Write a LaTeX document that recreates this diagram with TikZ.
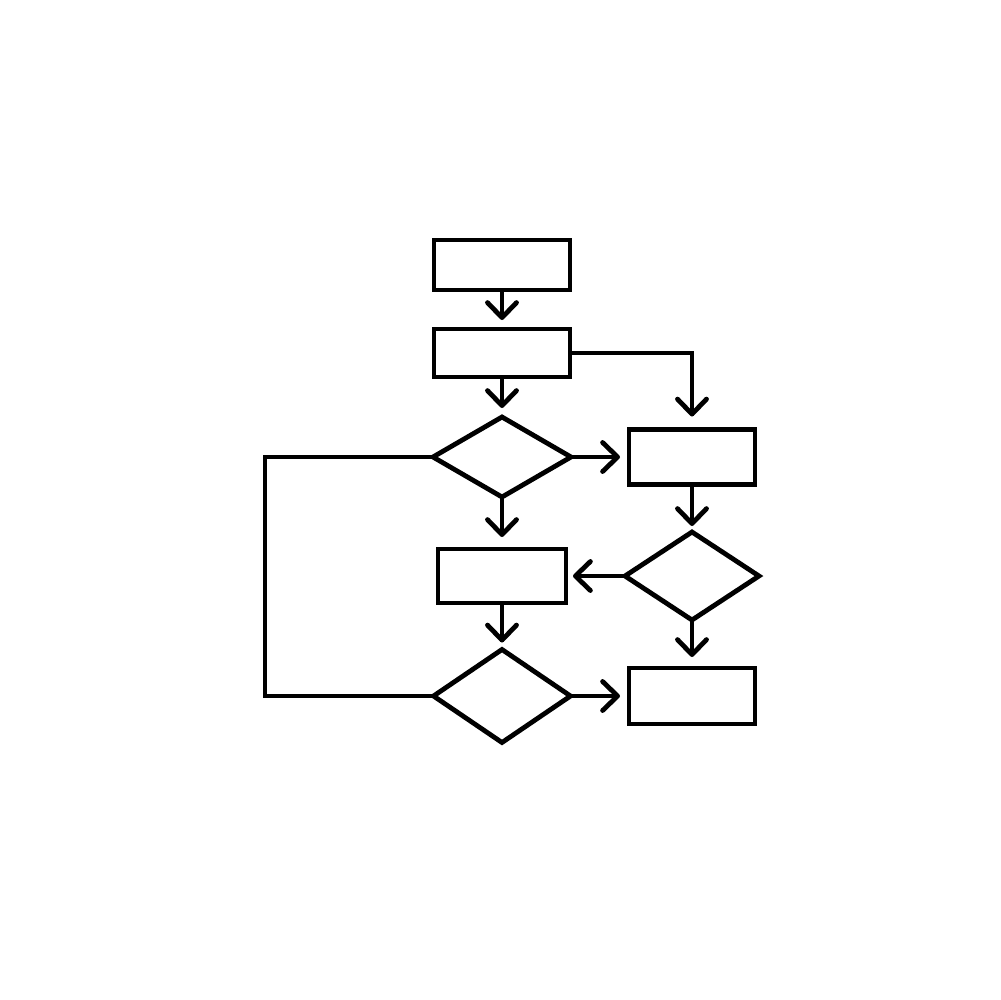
\documentclass[tikz,border=0pt]{standalone}
\usetikzlibrary{shapes.geometric,arrows.meta}
\begin{document}
\begin{tikzpicture}[x=0.1mm,y=-0.1mm,
  every node/.style={draw=black,line width=0.48mm,inner sep=0pt,outer sep=0pt},
  boxnode/.style={rectangle,line join=miter},
  decision/.style={diamond,line join=miter},
  arr/.style={line width=0.48mm,-{Straight Barb[length=1.5mm,width=2.9mm,line cap=round,line join=round]}},
  plain/.style={line width=0.48mm,line join=miter}]
\useasboundingbox (0,0) rectangle (1000,1000);
\fill[white] (0,0) rectangle (1000,1000);
\node[boxnode,minimum width=13.6mm,minimum height=5.0mm] (b1) at (502,265) {};
\node[boxnode,minimum width=13.6mm,minimum height=4.8mm] (b2) at (502,353) {};
\node[decision,minimum width=13.8mm,minimum height=8.0mm] (d1) at (502,457) {};
\node[boxnode,minimum width=12.6mm,minimum height=5.5mm] (b3) at (692,457) {};
\node[decision,minimum width=13.4mm,minimum height=8.8mm] (d3) at (692,576) {};
\node[boxnode,minimum width=12.8mm,minimum height=5.4mm] (b4) at (502,576) {};
\node[decision,minimum width=13.7mm,minimum height=9.3mm] (d2) at (502,696) {};
\node[boxnode,minimum width=12.6mm,minimum height=5.6mm] (b5) at (692,696) {};
\coordinate (lp) at (265,457);
\draw[arr,shorten >=0.9mm] (b1.south) -- (b2.north);
\draw[arr,shorten >=0.9mm] (b2.south) -- (d1.north);
\draw[arr,shorten >=1.3mm,line join=miter] (b2.east) -| (b3.north);
\draw[arr,shorten >=0.9mm] (d1.east) -- (b3.west);
\draw[arr,shorten >=1.2mm] (d1.south) -- (b4.north);
\draw[arr,shorten >=0.6mm] (b3.south) -- (d3.north);
\draw[arr,shorten >=0.7mm] (d3.west) -- (b4.east);
\draw[arr,shorten >=1.1mm] (d3.south) -- (b5.north);
\draw[arr,shorten >=0.7mm] (b4.south) -- (d2.north);
\draw[arr,shorten >=0.9mm] (d2.east) -- (b5.west);
\draw[plain] (d1.west) -- (lp) |- (d2.west);
\end{tikzpicture}
\end{document}
